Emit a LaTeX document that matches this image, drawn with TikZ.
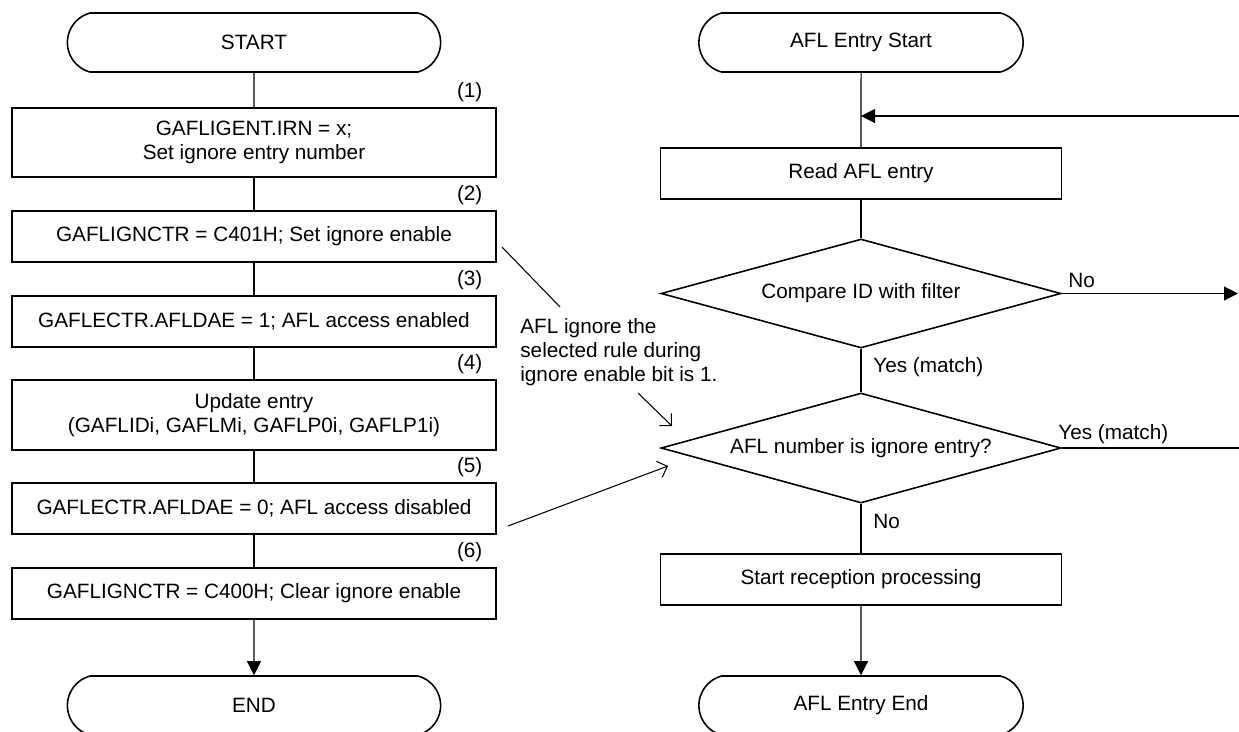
\documentclass[tikz,border=0pt]{standalone}
\usepackage{fontspec}
\setmainfont{Liberation Sans}
\usetikzlibrary{arrows.meta, shapes.geometric, shapes.misc, positioning}

\begin{document}
\begin{tikzpicture}[x=0.02cm, y=-0.02cm, >={Triangle[length=2.8mm, width=2.8mm]},
    font=\fontsize{11.8}{13.7}\selectfont,
    proc/.style={draw, line width=0.9pt, minimum width=9.68cm, minimum height=1.02cm, align=center, inner sep=0pt},
    term/.style={draw, line width=0.9pt, rounded rectangle, rounded rectangle arc length=150, minimum width=7.7cm, minimum height=1.18cm},
    decide/.style={draw, line width=0.9pt, diamond, aspect=3.67, minimum width=8cm, minimum height=2.18cm, inner sep=0pt},
    flow/.style={line width=0.6pt},
    notearrow/.style={line width=0.6pt, -{Straight Barb[length=1.7mm, width=3.4mm]}},
    stepno/.style={inner sep=0pt},
    lbl/.style={inner sep=0pt, anchor=base west}]
    \useasboundingbox (0,0) rectangle (1239,731);

    % 1. Left flow: ignore entry setting
    \node[term] (start) at (254,42.5) {START};
    \node[proc, minimum height=1.38cm] (b1) at (254,142.5) {GAFLIGENT.IRN = x;\\Set ignore entry number};
    \node[proc] (b2) at (254,236.5) {GAFLIGNCTR = C401H; Set ignore enable};
    \node[proc] (b3) at (254,321.5) {GAFLECTR.AFLDAE = 1; AFL access enabled};
    \node[proc, minimum height=1.4cm] (b4) at (254,415) {Update entry\\(GAFLIDi, GAFLMi, GAFLP0i, GAFLP1i)};
    \node[proc] (b5) at (254,508.5) {GAFLECTR.AFLDAE = 0; AFL access disabled};
    \node[proc] (b6) at (254,593.5) {GAFLIGNCTR = C400H; Clear ignore enable};
    \node[term] (stop) at (254,705.5) {END};

    \foreach \b/\n in {b1/1, b2/2, b3/3, b4/4, b5/5, b6/6} {
        \node[stepno, above left=0.1cm and 0.28cm of \b.north east] (n\n) {(\n)};
    }
    \foreach \a/\b in {start/b1, b1/b2, b2/b3, b3/b4, b4/b5, b5/b6} {
        \draw[flow] (\a) -- (\b);
    }
    \draw[flow, ->] (b6) -- (stop);

    % 2. Right flow: AFL entry check
    \node[term, minimum width=6.72cm] (afls) at (861,42.5) {AFL Entry Start};
    \node[proc, minimum width=8.02cm] (read) at (861,173.5) {Read AFL entry};
    \node[decide] (cmp) at (861,293.5) {Compare ID with filter};
    \node[decide, minimum height=2.2cm] (ign) at (861,448) {AFL number is ignore entry?};
    \node[proc, minimum width=8.02cm] (recv) at (861,579.5) {Start reception processing};
    \node[term, minimum width=6.72cm] (afle) at (861,705.5) {AFL Entry End};

    \draw[flow] (afls) -- (read);
    \draw[flow] (read) -- (cmp);
    \draw[flow] (cmp) -- (ign);
    \draw[flow] (ign) -- (recv);
    \draw[flow, ->] (recv) -- (afle);

    % 3. Branches to the right edge
    \coordinate (back) at (1239,116);
    \coordinate (join) at (861,116);
    \coordinate (noend) at (1238,293.5);
    \coordinate (yesend) at (1239,448);
    \draw[flow, ->] (back) -- (join);
    \draw[flow, ->] (cmp.east) -- (noend);
    \draw[flow] (ign.east) -- (yesend);

    \node[lbl] (nocmp) at (1068,287) {No};
    \node[lbl] (yescmp) at (873,372) {Yes (match)};
    \node[lbl] (yesign) at (1058,439) {Yes (match)};
    \node[lbl] (noign) at (873,528) {No};

    % 4. Note
    \node[inner sep=0pt, align=left, anchor=north west] (memo) at (520,318)
        {AFL ignore the\\selected rule during\\ignore enable bit is 1.};
    \coordinate (m1) at (502,247);
    \coordinate (m2) at (560,307);
    \coordinate (m3) at (638,393);
    \coordinate (m4) at (672,426);
    \coordinate (m5) at (508,526);
    \coordinate (m6) at (668,466);
    \draw[flow] (m1) -- (m2);
    \draw[notearrow] (m3) -- (m4);
    \draw[notearrow] (m5) -- (m6);
\end{tikzpicture}
\end{document}
